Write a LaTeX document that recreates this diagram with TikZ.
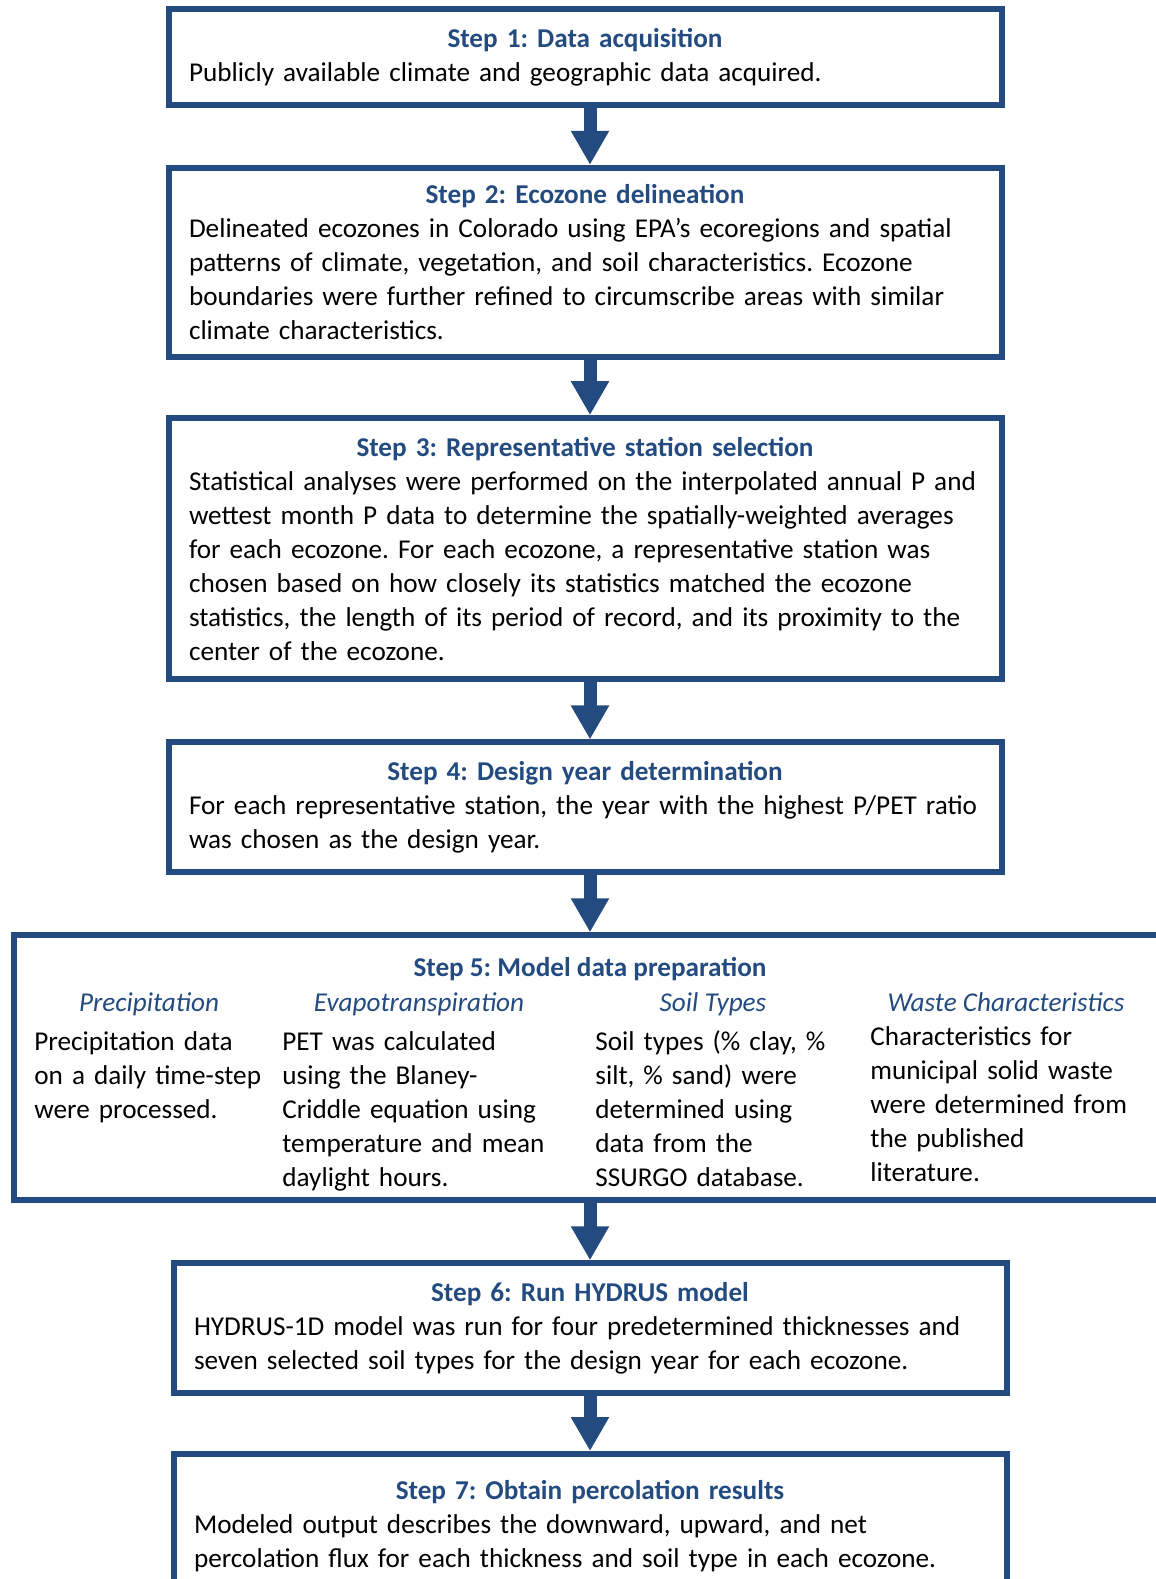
\documentclass[tikz,border=0pt]{standalone}
\usepackage{fontspec}
\setmainfont{Carlito}
\usepackage{tikz}
\usetikzlibrary{arrows.meta,positioning}
\definecolor{stepblue}{HTML}{234B80}
\frenchspacing
\newcommand{\steptitle}[1]{{\centering\leavevmode\bfseries\color{stepblue}#1\par}}
\newcommand{\stepfont}{\fontsize{13.6pt}{17pt}\selectfont}

\begin{document}
\begin{tikzpicture}[
  node distance=28.5pt,
  stepbox/.style={draw=stepblue,line width=3pt,text width=396pt,align=left,
                  inner xsep=10.25pt,inner ysep=9.5pt,font=\stepfont},
  colhead/.style={font=\stepfont\itshape,text=stepblue,anchor=base,inner sep=0pt},
  coltext/.style={font=\stepfont,align=left,anchor=base west,inner sep=0pt,text width=140pt},
  flow/.style={-{Triangle[width=18pt,length=17pt]},line width=6.5pt,draw=stepblue}
]
\useasboundingbox (0,0) rectangle (578pt,-789.5pt);
\clip (0,0) rectangle (578pt,-789.5pt);

\node[stepbox,anchor=north] (s1) at (292.5pt,-3pt) {\steptitle{Step 1: Data acquisition}
Publicly available climate and geographic data acquired.};
\node[stepbox,below=of s1,inner ysep=8.5pt] (s2) {\steptitle{Step 2: Ecozone delineation}
Delineated ecozones in Colorado using EPA’s ecoregions and spatial\\
patterns of climate, vegetation, and soil characteristics. Ecozone\\
boundaries were further refined to circumscribe areas with similar\\
climate characteristics.};
\node[stepbox,below=27.5pt of s2] (s3) {\steptitle{Step 3: Representative station selection}
Statistical analyses were performed on the interpolated annual P and\\
wettest month P data to determine the spatially-weighted averages\\
for each ecozone. For each ecozone, a representative station was\\
chosen based on how closely its statistics matched the ecozone\\
statistics, the length of its period of record, and its proximity to the\\
center of the ecozone.};
\node[stepbox,below=of s3,minimum height=64.5pt] (s4) {\steptitle{Step 4: Design year determination}
For each representative station, the year with the highest P/PET ratio\\
was chosen as the design year.};

% step 5 has four columns
\node[stepbox,below=of s4,xshift=2.5pt,minimum width=576pt,minimum height=132.5pt] (s5) {};
\node[font=\stepfont\bfseries,text=stepblue,anchor=base] (s5title) at ([yshift=-22pt]s5.north) {Step 5: Model data preparation};
\node[colhead] (prechead) at ([xshift=69pt,yshift=-39.5pt]s5.north west) {Precipitation};
\node[colhead] (evaphead) at ([xshift=204pt,yshift=-39.5pt]s5.north west) {Evapotranspiration};
\node[colhead] (soilhead) at ([xshift=351pt,yshift=-39.5pt]s5.north west) {Soil Types};
\node[colhead] (wastehead) at ([xshift=497.5pt,yshift=-39.5pt]s5.north west) {Waste Characteristics};
\node[coltext] (prectext) at ([xshift=11.5pt,yshift=-59pt]s5.north west) {Precipitation data\\
on a daily time-step\\
were processed.};
\node[coltext] (evaptext) at ([xshift=135.5pt,yshift=-59pt]s5.north west) {PET was calculated\\
using the Blaney-\\
Criddle equation using\\
temperature and mean\\
daylight hours.};
\node[coltext] (soiltext) at ([xshift=292pt,yshift=-59pt]s5.north west) {Soil types (\% clay, \%\\
silt, \% sand) were\\
determined using\\
data from the\\
SSURGO database.};
\node[coltext] (wastetext) at ([xshift=429.5pt,yshift=-56.5pt]s5.north west) {Characteristics for\\
municipal solid waste\\
were determined from\\
the published\\
literature.};

\node[stepbox,below=of s5] (s6) {\steptitle{Step 6: Run HYDRUS model}
HYDRUS-1D model was run for four predetermined thicknesses and\\
seven selected soil types for the design year for each ecozone.};
\node[stepbox,below=27.5pt of s6,minimum height=72pt] (s7) {\steptitle{Step 7: Obtain percolation results}
Modeled output describes the downward, upward, and net\\
percolation flux for each thickness and soil type in each ecozone.};

% arrows all sit on the axis of step 5
\draw[flow] (s1.south -| s5.north) -- (s2.north -| s5.north);
\draw[flow] (s2.south -| s5.north) -- (s3.north -| s5.north);
\draw[flow] (s3.south -| s5.north) -- (s4.north -| s5.north);
\draw[flow] (s4.south -| s5.north) -- (s5.north);
\draw[flow] (s5.south) -- (s6.north);
\draw[flow] (s6.south) -- (s7.north);
\end{tikzpicture}
\end{document}
